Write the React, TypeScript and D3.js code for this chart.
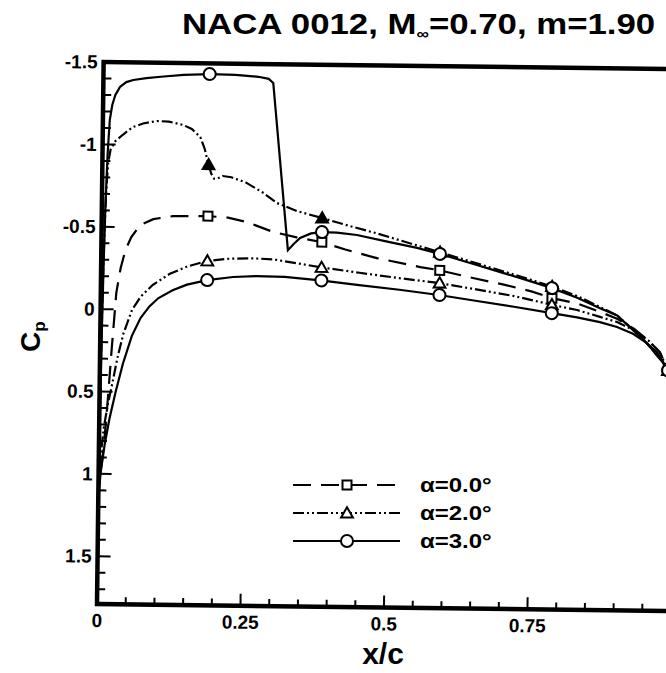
import React from 'react'
import * as d3 from 'd3'

const width = 666
const height = 673
const font = '"Liberation Sans", Arial, Helvetica, sans-serif'

// tick labels
const xTickValues = [0, 0.25, 0.5, 0.75]
const xTickLabels = ['0', '0.25', '0.5', '0.75']
const yTickValues = [-1.5, -1, -0.5, 0, 0.5, 1, 1.5]
const yTickLabels = ['-1.5', '-1', '-0.5', '0', '0.5', '1', '1.5']

// symbols sit at these stations along the chord
const markerX = [0.185, 0.384, 0.59, 0.786, 0.99]

// [x/c, Cp]
const alpha0: [number, number][] = [
    [0, 1.13], [0.003, 1.0], [0.007, 0.88], [0.011, 0.72], [0.015, 0.52],
    [0.02, 0.25], [0.027, -0.1], [0.034, -0.25], [0.042, -0.36], [0.052, -0.44],
    [0.067, -0.513], [0.09, -0.55], [0.124, -0.57], [0.183, -0.573], [0.22, -0.565],
    [0.253, -0.539], [0.299, -0.481], [0.34, -0.45], [0.383, -0.424], [0.425, -0.38],
    [0.48, -0.33], [0.556, -0.279], [0.588, -0.262], [0.65, -0.215], [0.7, -0.18],
    [0.75, -0.14], [0.786, -0.1], [0.83, -0.07], [0.87, -0.02], [0.9, 0.02],
    [0.93, 0.08], [0.955, 0.15], [0.975, 0.22], [0.99, 0.33],
]

const alpha2Upper: [number, number][] = [
    [0, 1.13], [0.001, 0.6], [0.002, 0.2], [0.004, -0.3], [0.007, -0.7],
    [0.01, -0.887], [0.014, -0.97], [0.022, -1.02], [0.035, -1.06], [0.052, -1.107],
    [0.07, -1.13], [0.094, -1.146], [0.115, -1.143], [0.14, -1.124], [0.155, -1.1],
    [0.17, -1.052], [0.178, -0.98], [0.184, -0.895], [0.19, -0.83], [0.195, -0.8],
    [0.2, -0.8], [0.21, -0.817], [0.225, -0.81], [0.25, -0.78], [0.28, -0.72],
    [0.305, -0.657], [0.34, -0.61], [0.384, -0.569], [0.43, -0.525], [0.48, -0.48],
    [0.54, -0.42], [0.59, -0.37], [0.65, -0.31], [0.7, -0.26], [0.745, -0.215],
    [0.786, -0.17], [0.83, -0.115], [0.87, -0.05], [0.9, 0.0], [0.928, 0.085],
    [0.958, 0.185], [0.975, 0.25], [0.99, 0.33],
]

const alpha2Lower: [number, number][] = [
    [0, 1.13], [0.003, 0.9], [0.008, 0.72], [0.015, 0.57], [0.022, 0.45],
    [0.03, 0.3], [0.04, 0.15], [0.055, 0.0], [0.07, -0.08], [0.09, -0.15],
    [0.12, -0.22], [0.15, -0.265], [0.184, -0.3], [0.22, -0.315], [0.26, -0.32],
    [0.3, -0.315], [0.383, -0.27], [0.45, -0.24], [0.52, -0.21], [0.588, -0.184],
    [0.65, -0.15], [0.72, -0.11], [0.786, -0.06], [0.83, -0.03], [0.87, 0.01],
    [0.9, 0.04], [0.93, 0.09], [0.955, 0.15], [0.975, 0.22], [0.99, 0.33],
]

const alpha3Upper: [number, number][] = [
    [0, 1.13], [0.001, 0.7], [0.002, 0.3], [0.004, -0.2], [0.006, -0.6],
    [0.009, -0.95], [0.012, -1.15], [0.016, -1.24], [0.021, -1.3], [0.029, -1.35],
    [0.04, -1.38], [0.052, -1.393], [0.075, -1.405], [0.1, -1.415], [0.14, -1.428],
    [0.186, -1.435], [0.23, -1.432], [0.27, -1.422], [0.288, -1.41], [0.296, -1.385],
    [0.325, -0.372], [0.335, -0.41], [0.346, -0.447], [0.365, -0.475], [0.384, -0.484],
    [0.41, -0.482], [0.445, -0.469], [0.5, -0.43], [0.55, -0.395], [0.59, -0.36],
    [0.65, -0.3], [0.7, -0.25], [0.742, -0.208], [0.786, -0.161], [0.83, -0.105],
    [0.87, -0.043], [0.9, 0.0], [0.928, 0.088], [0.945, 0.14], [0.958, 0.19],
    [0.97, 0.24], [0.98, 0.28], [0.99, 0.33],
]

const alpha3Lower: [number, number][] = [
    [0, 1.13], [0.004, 0.98], [0.01, 0.82], [0.018, 0.66], [0.028, 0.5],
    [0.04, 0.33], [0.055, 0.16], [0.07, 0.05], [0.085, -0.02], [0.1, -0.07],
    [0.125, -0.12], [0.15, -0.155], [0.185, -0.184], [0.23, -0.205], [0.27, -0.212],
    [0.32, -0.21], [0.386, -0.19], [0.45, -0.165], [0.52, -0.14], [0.589, -0.111],
    [0.65, -0.08], [0.72, -0.045], [0.786, -0.009], [0.83, 0.015], [0.87, 0.042],
    [0.9, 0.07], [0.928, 0.11], [0.95, 0.16], [0.97, 0.22], [0.99, 0.33],
]

const series = [
    { label: 'α=0.0°', curves: [alpha0], dash: '18,10', marker: 'square' },
    { label: 'α=2.0°', curves: [alpha2Upper, alpha2Lower], dash: '11,3,2,3,2,3', marker: 'triangle' },
    { label: 'α=3.0°', curves: [alpha3Upper, alpha3Lower], dash: 'none', marker: 'circle' },
]

const xScale = d3.scaleLinear().domain([0, 1]).range([97, 671])
const yScale = d3.scaleLinear().domain([-1.5, 1.79]).range([62, 604])

const line = d3
    .line<[number, number]>()
    .x((d) => xScale(d[0]))
    .y((d) => yScale(d[1]))

const cpAt = (curve: [number, number][], x: number) => {
    const i = d3.bisector((d: [number, number]) => d[0]).left(curve, x)
    if (i <= 0) return curve[0][1]
    if (i >= curve.length) return curve[curve.length - 1][1]
    const [xa, ya] = curve[i - 1]
    const [xb, yb] = curve[i]
    return ya + ((yb - ya) * (x - xa)) / (xb - xa)
}

const triangle = d3.symbol(d3.symbolTriangle, 60)()

const Marker = ({ kind, x, y, filled }: { kind: string; x: number; y: number; filled?: boolean }) => {
    if (kind === 'square')
        return <rect x={x - 4.5} y={y - 4.5} width={9} height={9} fill="#fff" stroke="#000" strokeWidth={2} />
    if (kind === 'triangle')
        return (
            <path d={triangle} transform={`translate(${x},${y + 1})`}
                fill={filled ? '#000' : '#fff'} stroke="#000" strokeWidth={2} />
        )
    return <circle cx={x} cy={y} r={6} fill="#fff" stroke="#000" strokeWidth={2} />
}

const App = () => {
    const xMinor = d3.range(0, 1.001, 0.05)
    const yMinor = d3.range(-1.5, 1.75, 0.1)
    const left = xScale(0)
    const bottom = yScale(1.79)

    return (
        <svg width={width} height={height}
            style={{ position: 'absolute', left: 0, top: 0, background: '#fff' }}>
            <text transform="translate(182,34) scale(1.16,1)" fontFamily={font} fontWeight="bold" fontSize={30}>
                NACA 0012, M<tspan fontSize={15} dy={5}>∞</tspan>
                <tspan dy={-5}>=0.70, m=1.90</tspan>
            </text>

            <g transform={`rotate(0.7, ${left}, ${bottom})`}>
                {/* frame */}
                <rect x={left} y={yScale(-1.5)} width={xScale(1) - left} height={bottom - yScale(-1.5)}
                    fill="none" stroke="#000" strokeWidth={4.5} />

                {xMinor.map((v, i) => {
                    const major = i % 5 === 0
                    return <line key={'xt' + i} x1={xScale(v)} x2={xScale(v)} y1={bottom}
                        y2={bottom - (major ? 12 : 7)} stroke="#000" strokeWidth={2} />
                })}
                {yMinor.map((v, i) => {
                    const major = i % 5 === 0
                    return <line key={'yt' + i} x1={left} x2={left + (major ? 13 : 8)} y1={yScale(v)}
                        y2={yScale(v)} stroke="#000" strokeWidth={2} />
                })}

                {xTickValues.map((v, i) => (
                    <text key={'xl' + i} x={xScale(v)} y={bottom + 23} textAnchor="middle"
                        fontFamily={font} fontWeight="bold" fontSize={19}>{xTickLabels[i]}</text>
                ))}
                {yTickValues.map((v, i) => (
                    <text key={'yl' + i} x={left - 6} y={yScale(v)} textAnchor="end" dominantBaseline="central"
                        fontFamily={font} fontWeight="bold" fontSize={19}>{yTickLabels[i]}</text>
                ))}

                {series.map((s) =>
                    s.curves.map((c, j) => (
                        <path key={s.label + j} d={line(c) || ''} fill="none" stroke="#000"
                            strokeWidth={2.2} strokeDasharray={s.dash} />
                    ))
                )}
                {series.map((s) =>
                    s.curves.map((c, j) =>
                        markerX.map((mx, k) => (
                            <Marker key={s.label + j + '-' + k} kind={s.marker} x={xScale(mx)}
                                y={yScale(cpAt(c, mx))} filled={j === 0} />
                        ))
                    )
                )}
            </g>

            {/* legend */}
            {series.map((s, i) => {
                const y = 485 + i * 28
                return (
                    <g key={'lg' + i}>
                        <line x1={293} x2={400} y1={y} y2={y} stroke="#000" strokeWidth={2.2}
                            strokeDasharray={s.dash} />
                        <Marker kind={s.marker} x={347} y={y} filled={false} />
                        <text transform={`translate(420,${y + 7}) scale(1.2,1)`} fontFamily={font}
                            fontWeight="bold" fontSize={20}>{s.label}</text>
                    </g>
                )
            })}

            <text x={383} y={664} textAnchor="middle" fontFamily={font} fontWeight="bold" fontSize={30}>x/c</text>
            <text transform="translate(40,352) rotate(-90)" fontFamily={font} fontWeight="bold" fontSize={28}>
                C<tspan fontSize={17} dy={5}>p</tspan>
            </text>
        </svg>
    )
}

export default App
